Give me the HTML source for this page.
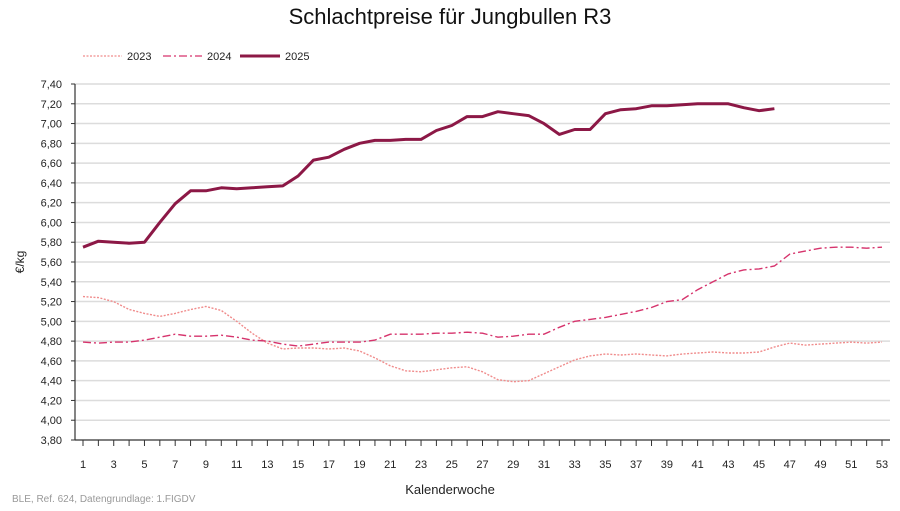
<!DOCTYPE html>
<html><head><meta charset="utf-8"><style>
body{margin:0;background:#fff;width:900px;height:506px;overflow:hidden;font-family:"Liberation Sans",sans-serif}
</style></head><body>
<svg id="s" width="900" height="506" xmlns="http://www.w3.org/2000/svg" font-family="Liberation Sans, sans-serif">
<text x="450" y="24" font-size="22" text-anchor="middle" fill="#111">Schlachtpreise für Jungbullen R3</text>
<line x1="83" y1="56" x2="122" y2="56" stroke="#f08c8c" stroke-width="1.3" stroke-dasharray="2,1.5"/>
<text x="127" y="60" font-size="11" fill="#222">2023</text>
<line x1="163" y1="56" x2="202" y2="56" stroke="#d6336c" stroke-width="1.3" stroke-dasharray="8,3,2,3"/>
<text x="207" y="60" font-size="11" fill="#222">2024</text>
<line x1="240" y1="56" x2="280" y2="56" stroke="#8c1846" stroke-width="3"/>
<text x="285" y="60" font-size="11" fill="#222">2025</text>
<text transform="translate(24,262) rotate(-90)" font-size="12" text-anchor="middle" fill="#222">€/kg</text>
<text x="450" y="494" font-size="13" text-anchor="middle" fill="#222">Kalenderwoche</text>
<text x="12" y="502" font-size="10" fill="#999">BLE, Ref. 624, Datengrundlage: 1.FIGDV</text>
<g id="g"></g>
</svg>
<script>
var g=document.getElementById('g'),h='';
function Y(v){return 440-(v-3.8)/3.6*356}
function X(w){return 83+(w-1)*799/52}
for(var i=0;i<=18;i++){var v=3.8+i*0.2,y=Y(v);
 if(i>0)h+='<line x1="75" x2="890" y1="'+y+'" y2="'+y+'" stroke="#dcdcdc" stroke-width="1.5"/>';
 h+='<line x1="71" x2="75" y1="'+y+'" y2="'+y+'" stroke="#333"/>';
 h+='<text x="62" y="'+(y+4)+'" font-size="11" text-anchor="end" fill="#222">'+v.toFixed(2).replace('.',',')+'</text>';}
h+='<line x1="75" x2="75" y1="84" y2="440" stroke="#333" stroke-width="1.2"/>';
h+='<line x1="75" x2="890" y1="440" y2="440" stroke="#333" stroke-width="1.2"/>';
for(var w=1;w<=53;w++){var x=X(w);h+='<line x1="'+x+'" x2="'+x+'" y1="440" y2="446" stroke="#333"/>';
 if(w%2)h+='<text x="'+x+'" y="468" font-size="11" text-anchor="middle" fill="#222">'+w+'</text>';}
var d23=[5.25,5.24,5.20,5.12,5.08,5.05,5.08,5.12,5.15,5.11,5.00,4.88,4.78,4.72,4.73,4.73,4.72,4.73,4.70,4.63,4.55,4.50,4.49,4.51,4.53,4.54,4.49,4.41,4.39,4.40,4.47,4.54,4.61,4.65,4.67,4.66,4.67,4.66,4.65,4.67,4.68,4.69,4.68,4.68,4.69,4.74,4.78,4.76,4.77,4.78,4.79,4.78,4.79];
var d24=[4.79,4.78,4.79,4.79,4.81,4.84,4.87,4.85,4.85,4.86,4.84,4.81,4.80,4.77,4.75,4.77,4.79,4.79,4.79,4.81,4.87,4.87,4.87,4.88,4.88,4.89,4.88,4.84,4.85,4.87,4.87,4.94,5.00,5.02,5.04,5.07,5.10,5.14,5.20,5.22,5.32,5.40,5.48,5.52,5.53,5.56,5.68,5.71,5.74,5.75,5.75,5.74,5.75];
var d25=[5.75,5.81,5.80,5.79,5.80,6.00,6.19,6.32,6.32,6.35,6.34,6.35,6.36,6.37,6.47,6.63,6.66,6.74,6.80,6.83,6.83,6.84,6.84,6.93,6.98,7.07,7.07,7.12,7.10,7.08,7.00,6.89,6.94,6.94,7.10,7.14,7.15,7.18,7.18,7.19,7.20,7.20,7.20,7.16,7.13,7.15];
function pl(d,st){return '<polyline fill="none" '+st+' points="'+d.map(function(v,i){return X(i+1).toFixed(1)+','+Y(v).toFixed(1)}).join(' ')+'"/>'}
h+=pl(d23,'stroke="#f08c8c" stroke-width="1.4" stroke-dasharray="2,1.5"');
h+=pl(d24,'stroke="#d6336c" stroke-width="1.4" stroke-dasharray="8,3,2,3"');
h+=pl(d25,'stroke="#8c1846" stroke-width="3" stroke-linejoin="round"');
g.innerHTML=h;
</script>
</body></html>
